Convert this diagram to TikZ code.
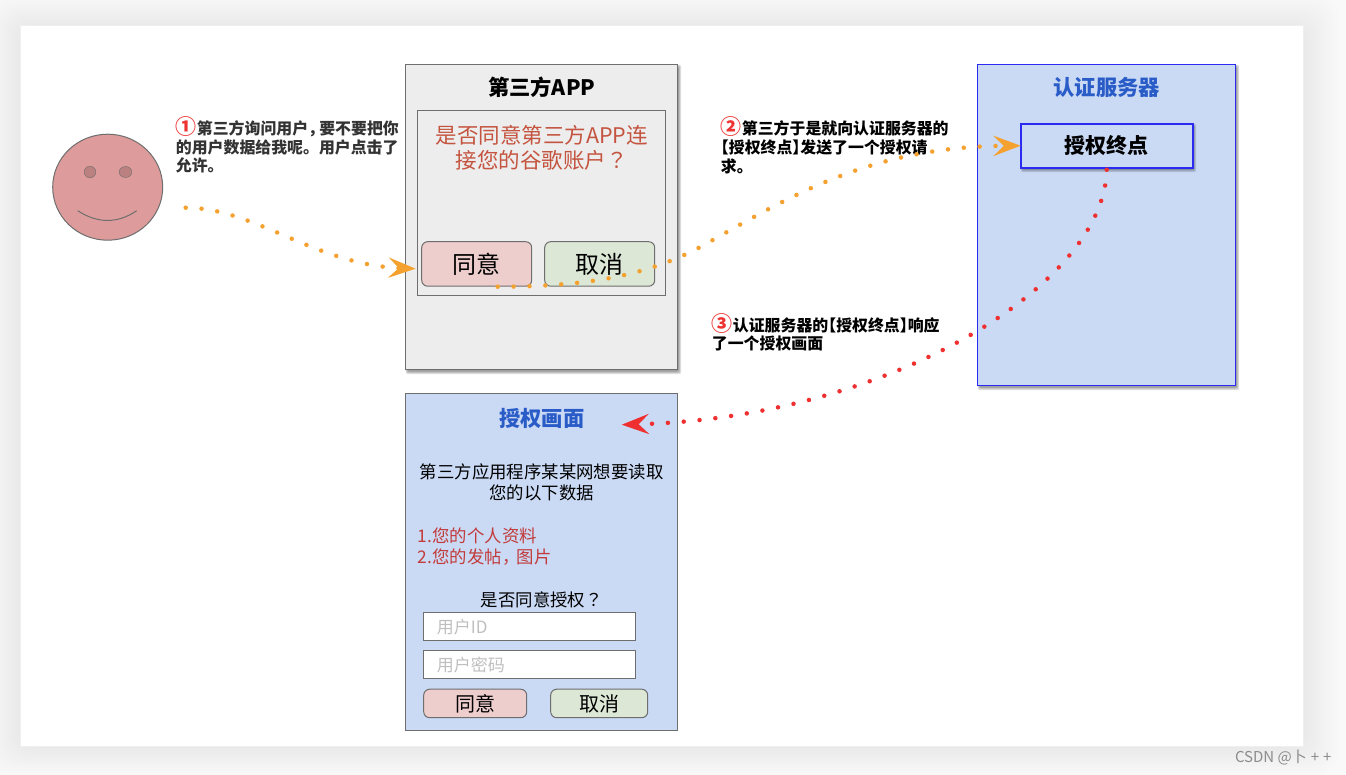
\documentclass[tikz,border=0pt]{standalone}
\usepackage{fontspec}
\setmainfont{Noto Sans CJK SC}
\newfontfamily\tcfont{Noto Sans CJK TC}
\usetikzlibrary{arrows.meta,shapes.geometric}

\definecolor{sheetgray}{HTML}{F9F9F9}
\definecolor{linegray}{HTML}{6E6E6E}
\definecolor{appgray}{HTML}{EDEDED}
\definecolor{paleblue}{HTML}{CADAF5}
\definecolor{edgeblue}{HTML}{2A2AF0}
\definecolor{titleblue}{HTML}{2A5CC8}
\definecolor{okpink}{HTML}{EECDCD}
\definecolor{nogreen}{HTML}{DCE8D5}
\definecolor{facepink}{HTML}{DE9B9B}
\definecolor{eyepink}{HTML}{BB8080}
\definecolor{askred}{HTML}{C4543F}
\definecolor{listred}{HTML}{C23B3B}
\definecolor{numred}{HTML}{EE3333}
\definecolor{dotorange}{HTML}{F4A12F}
\definecolor{dotred}{HTML}{EE3030}

\setlength{\lineskiplimit}{-50pt}
\newcommand{\fsize}[1]{\fontsize{#1}{#1}\selectfont}
\newcommand{\stepnum}[1]{{\fontsize{21}{19}\selectfont\color{numred}#1}}
\newcommand{\openbk}{\kern-.5em【}
\newcommand{\closebk}{】\kern-.5em}
\newcommand{\softshadow}[4]{%
    \foreach \i in {0,1,2,3} {
        \fill[black, opacity=0.11, rounded corners=2pt]
            ({#1+\i*0.6},{#2+\i*0.6}) rectangle ({#3+3.5-\i*0.8},{#4+4.5-\i*0.9});
    }}

\begin{document}
\begin{tikzpicture}[x=1pt, y=-1pt, >={Stealth[length=27pt,width=20pt,inset=10pt]},
    box/.style={draw=linegray, anchor=north west, inner sep=0pt, outer sep=0pt, line width=1pt},
    okbtn/.style={box, fill=okpink, rounded corners=6pt},
    nobtn/.style={box, fill=nogreen, rounded corners=6pt},
    inputbox/.style={box, fill=white, minimum width=212pt, minimum height=28pt},
    hint/.style={anchor=west, inner sep=0pt, text=gray!50, font=\fsize{17}},
    title/.style={inner sep=0pt, font=\fsize{21.3}\bfseries},
    note/.style={anchor=west, inner sep=0pt, align=left, font=\fontsize{15.9}{18.6}\selectfont\bfseries},
    body/.style={inner sep=0pt, align=center, font=\fontsize{17.4}{21.5}\selectfont},
    dots/.style={line width=4.5pt, line cap=round, dash pattern=on 0pt off 15.9pt}]

    \useasboundingbox (0.3,0.3) rectangle (1346.3,774.3);
    \fill[sheetgray] (0,0) rectangle (1347,775);
    \foreach \i in {1,...,16} {
        \fill[black, opacity=0.004, rounded corners=20pt]
            ({20-\i*2},{28-\i*2}) rectangle ({1303+\i*2.2},{746+\i*1.8});
    }
    \draw[fill=white, draw=black!6] (20,25) rectangle (1303,746);

    \draw[fill=facepink, draw=linegray, line width=1pt] (108,187.5) ellipse [x radius=55, y radius=53];
    \draw[fill=eyepink, draw=linegray] (90.3,172.3) ellipse [x radius=5.8, y radius=5.8];
    \draw[fill=eyepink, draw=linegray] (125.8,172.3) ellipse [x radius=6.3, y radius=5.5];
    \draw[draw=linegray, line width=1pt] (78,211) .. controls (98,224) and (118,224) .. (137,211);

    \node[note, text=black!80] (noteone) at (176,145.5)
        {\stepnum{①}第三方询问用户，\kern-.3em要不要把你\\的用户数据给我呢。用户点击了\\允许。};

    \softshadow{406}{65}{678}{370}
    \node[box, fill=appgray, minimum width=272pt, minimum height=305pt] (app) at (406,65) {};
    \node[title] (apptitle) at (542,88) {第三方APP};
    \node[box, minimum width=248pt, minimum height=184.5pt] (dialog) at (418,111) {};
    \node[body, text=askred, font=\fontsize{21.5}{25}\selectfont] (ask) at (542,148.5) {是否同意第三方APP连\\接您的谷歌账户{\tcfont ？}};
    \node[okbtn, minimum width=110pt, minimum height=44.5pt, font=\fsize{24}] (agree) at (422,242) {同意};
    \node[nobtn, minimum width=110pt, minimum height=44.5pt, font=\fsize{24}] (cancel) at (545,242) {取消};

    \softshadow{978}{65}{1236}{386}
    \node[box, draw=edgeblue, fill=paleblue, line width=1.5pt, minimum width=258pt, minimum height=321pt] (server) at (978,65) {};
    \node[title, text=titleblue] (servertitle) at (1107,88) {认证服务器};
    \softshadow{1021}{124}{1193}{168}
    \node[box, draw=edgeblue, fill=paleblue, line width=2pt, minimum width=172pt, minimum height=44pt, font=\fsize{21}\bfseries] (endpoint) at (1021,124) {授权终点};

    \node[note] (notetwo) at (721,145.5)
        {\stepnum{②}第三方于是就向认证服务器的\\\openbk 授权终点\closebk 发送了一个授权请\\求。};
    \node[note] (notethree) at (712,332.5)
        {\stepnum{③}认证服务器的\openbk 授权终点\closebk 响应\\了一个授权画面};

    \node[box, fill=paleblue, minimum width=272pt, minimum height=337pt] (auth) at (406,394) {};
    \node[title, text=titleblue] (authtitle) at (542,419) {授权画面};
    \node[body] (authtext) at (542,482.5) {第三方应用程序某某网想要读取\\您的以下数据};
    \node[body, anchor=west, align=left, text=listred] (authlist) at (418,547) {1.您的个人资料\\2.您的发帖，\kern-.15em 图片};
    \node[body] (authask) at (542,600) {是否同意授权{\tcfont ？}};
    \node[inputbox] (userid) at (424,612.5) {};
    \node[hint] (useridtext) at (437,627) {用户ID};
    \node[inputbox] (userpwd) at (424,651) {};
    \node[hint] (userpwdtext) at (437,665) {用户密码};
    \node[okbtn, minimum width=103pt, minimum height=28.5pt, font=\fsize{20}] (authagree) at (424,689.5) {同意};
    \node[nobtn, minimum width=97pt, minimum height=28.5pt, font=\fsize{20}] (authcancel) at (551,689.5) {取消};

    \coordinate (userstart) at (186,208);
    \coordinate (apparrow) at (416,269);
    \coordinate (reqstart) at (498,287);
    \coordinate (reqmid) at (703,246);
    \coordinate (resstart) at (1107,170);
    \coordinate (authend) at (622,425);

    \draw[->, dots, dotorange] (userstart) .. controls (255,208) and (315,265) .. (apparrow);
    \draw[->, dots, dotorange] (reqstart) .. controls (590,287) and (650,275) .. (reqmid)
        .. controls (790,197) and (870,147) .. (endpoint.west);
    \draw[->, dots, dotred] (resstart) .. controls (1105,285) and (890,418) .. (authend);

    \node[anchor=east, inner sep=0pt, text=black!45, font=\fsize{15}] (mark) at (1332,758) {CSDN @卜\hspace{4pt}+\hspace{4pt}+};
\end{tikzpicture}
\end{document}
